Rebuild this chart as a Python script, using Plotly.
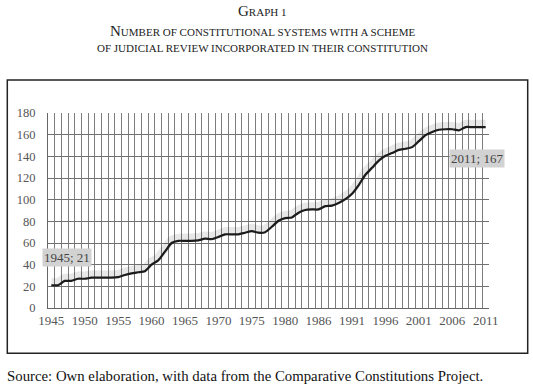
import plotly.graph_objects as go

# Years (categories) — one year in 1981-1985 is absent in the source series
years = [str(y) for y in range(1945, 1981)] + ["1981", "1982", "1984", "1985"] + [str(y) for y in range(1986, 2012)]
counts = [21, 21, 25, 25, 27, 27, 28, 28, 28, 28, 28.5, 30.5, 32, 33, 34, 40, 44, 52, 60, 62,
          62, 62, 62.5, 64, 63.5, 65.5, 68, 68, 68, 69.5, 71, 69.5, 70, 75, 80.5, 83,
          83.5, 88, 90.5, 91,
          91, 94, 94.5, 97, 100.5, 105.5, 113.5, 123, 129.5, 136, 140.5, 143, 146, 147,
          148.5, 154, 159.5, 162.5, 164.5, 165, 165, 164, 167, 167, 167, 167]
label_years = [y for i, y in enumerate(years) if i % 5 == 0]
y_ticks = list(range(0, 181, 20))

idx = list(range(len(years)))
tick_idx = [i for i in idx if i % 5 == 0]

serif = "Liberation Serif, Times New Roman, serif"

W, H = 533, 390
L, T, PW, PH = 48, 113, 441, 195
R, B = W - L - PW, H - T - PH


def px(xp):
    return (xp - L) / PW


def py(yp):
    return (T + PH - yp) / PH


fig = go.Figure()
# soft shadow of the line
fig.add_trace(go.Scatter(x=idx, y=counts, mode="lines", yaxis="y2",
                         line=dict(color="rgba(0,0,0,0.09)", width=8, shape="spline", smoothing=0.6),
                         hoverinfo="skip", showlegend=False))
fig.add_trace(go.Scatter(x=idx, y=counts, mode="lines",
                         line=dict(color="#1e1e1e", width=2.2, shape="spline", smoothing=0.6),
                         showlegend=False))

fig.update_layout(
    width=W, height=H,
    margin=dict(l=L, r=R, t=T, b=B),
    paper_bgcolor="white", plot_bgcolor="white",
    font=dict(family=serif, color="#555555", size=12),
    xaxis=dict(range=[-0.5, len(years) - 0.5], tickmode="array", tickvals=tick_idx, ticktext=label_years,
               showgrid=False, zeroline=False, showline=True, linecolor="#666", linewidth=1,
               ticks="", tickfont=dict(family=serif, size=13, color="#555"),
               minor=dict(tickmode="linear", tick0=-0.5, dtick=1, showgrid=True,
                          gridcolor="#7d7d7d", gridwidth=1)),
    yaxis=dict(range=[0, 180], tickmode="array", tickvals=y_ticks, showgrid=True,
               gridcolor="#707070", gridwidth=1, zeroline=False, showline=True, linecolor="#666",
               ticks="", tickfont=dict(family=serif, size=12.5, color="#555"), ticklabelstandoff=9),
    yaxis2=dict(range=[-3, 177], overlaying="y", visible=False),
)

fig.add_shape(type="rect", xref="paper", yref="paper", x0=px(7.3), x1=px(527.7), y0=py(353.3), y1=py(80),
              line=dict(color="#222", width=1.5), layer="below")


def smallcaps(text, bsz, ssz):
    out = []
    for word in text.split(" "):
        parts = []
        first = True
        for ch in word:
            if first and ch.isupper():
                parts.append(f"<span style='font-size:{bsz}px'>{ch}</span>")
            else:
                parts.append(f"<span style='font-size:{ssz}px'>{ch.upper()}</span>")
            first = False
        out.append("".join(parts))
    return f"<span style='font-size:{ssz}px'> </span>".join(out)


titles = [("Graph 1", 11, 15, 11), ("Number of constitutional systems with a scheme", 31, 15, 11),
          ("of judicial review incorporated in their constitution", 48, 15, 11)]
for txt, ypx, bsz, ssz in titles:
    fig.add_annotation(xref="paper", yref="paper", x=px(262), y=py(ypx),
                       text=smallcaps(txt, bsz, ssz), showarrow=False, xanchor="center", yanchor="middle",
                       font=dict(family=serif, color="#222"))

fig.add_annotation(x=0, y=counts[0], text=f"{years[0]}; {counts[0]:g}", showarrow=True, arrowcolor="rgba(0,0,0,0)",
                   ax=16, ay=-28, bgcolor="#d2d2d2", font=dict(family=serif, size=13, color="#444"), borderpad=1)
fig.add_annotation(x=len(years) - 1, y=counts[-1], text=f"{years[-1]}; {counts[-1]:g}", showarrow=True,
                   arrowcolor="rgba(0,0,0,0)", ax=-9, ay=31, bgcolor="#d2d2d2",
                   font=dict(family=serif, size=13, color="#444"), borderpad=1)

fig.add_annotation(xref="paper", yref="paper", x=px(5), y=py(376),
                   text="Source: Own elaboration, with data from the Comparative Constitutions Project.",
                   showarrow=False, xanchor="left", yanchor="middle",
                   font=dict(family=serif, size=14.8, color="#111"))

fig.write_html("out.html", config={"displayModeBar": False},
               post_script="document.body.style.margin='0px';")
